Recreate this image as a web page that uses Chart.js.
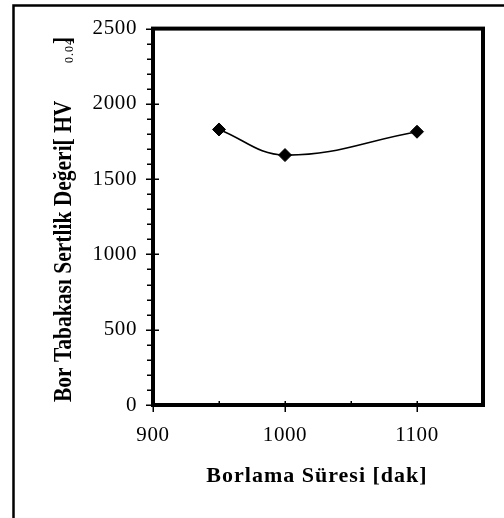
<!DOCTYPE html>
<html><head><meta charset="utf-8">
<script src="https://cdn.jsdelivr.net/npm/chart.js@4"></script>
<style>html,body{margin:0;padding:0;background:#fff;}</style>
</head><body>
<canvas id="c" width="504" height="518" style="width:504px;height:518px;display:block"></canvas>
<script>
const durations = [950, 1000, 1100];
const hardness = [1830, 1660, 1815];
const xTickLabels = [900, 1000, 1100];
const yTickLabels = [0, 500, 1000, 1500, 2000, 2500];
const xTitle = 'Borlama Süresi [dak]';
const yTitleMain = 'Bor Tabakası Sertlik Değeri[ HV';
const yTitleSub = '0.04';
const yTitleEnd = ']';

const SERIF = '"Liberation Serif", "Times New Roman", serif';

const framePlugin = {
  id: 'frame',
  beforeDraw(chart) {
    const ctx = chart.ctx;
    ctx.save();
    ctx.fillStyle = '#fff';
    ctx.fillRect(0, 0, chart.width, chart.height);
    ctx.restore();
    ctx.letterSpacing = '0.6px';
  },
  afterDraw(chart) {
    const ctx = chart.ctx;
    const a = chart.chartArea;
    const xs = chart.scales.x, ys = chart.scales.y;
    ctx.save();
    ctx.strokeStyle = '#000';
    // outer frame (only top and left visible)
    ctx.lineWidth = 2.5;
    ctx.beginPath();
    ctx.moveTo(13.5, chart.height + 2);
    ctx.lineTo(13.5, 5.5);
    ctx.lineTo(chart.width + 2, 5.5);
    ctx.stroke();
    // plot box
    ctx.lineWidth = 4;
    ctx.strokeRect(a.left, a.top, a.right - a.left, a.bottom - a.top);
    // tick marks
    ctx.lineWidth = 1.5;
    ctx.beginPath();
    for (let v = ys.min; v <= ys.max; v += 100) {
      const p = Math.round(ys.getPixelForValue(v)) + 0.25;
      if (v % 500 === 0) { ctx.moveTo(a.left - 7, p); ctx.lineTo(a.left + 6, p); }
      else { ctx.moveTo(a.left - 6, p); ctx.lineTo(a.left, p); }
    }
    for (let v = xs.min; v < xs.max; v += 50) {
      const p = Math.round(xs.getPixelForValue(v)) + 0.25;
      if (v % 100 === 0) { ctx.moveTo(p, a.bottom - 4); ctx.lineTo(p, a.bottom + 7); }
      else { ctx.moveTo(p, a.bottom - 4); ctx.lineTo(p, a.bottom); }
    }
    ctx.stroke();
    // axis titles
    ctx.fillStyle = '#000';
    ctx.letterSpacing = '1px';
    ctx.font = 'bold 22px ' + SERIF;
    ctx.textAlign = 'center';
    ctx.textBaseline = 'middle';
    ctx.fillText(xTitle, (a.left + a.right) / 2 - 1, 476);
    ctx.textAlign = 'left';
    ctx.textBaseline = 'alphabetic';
    ctx.letterSpacing = '0px';
    ctx.save();
    ctx.translate(71, 402);
    ctx.rotate(-Math.PI / 2);
    ctx.scale(1, 1.2);
    ctx.font = 'bold 21.5px ' + SERIF;
    ctx.fillText(yTitleMain, 0, 0);
    ctx.restore();
    ctx.save();
    ctx.translate(72.5, 63);
    ctx.rotate(-Math.PI / 2);
    ctx.scale(1, 1.1);
    ctx.letterSpacing = '1px';
    ctx.font = '12px ' + SERIF;
    ctx.fillText(yTitleSub, 0, 0);
    ctx.restore();
    ctx.save();
    ctx.translate(71, 44);
    ctx.rotate(-Math.PI / 2);
    ctx.scale(1, 1.2);
    ctx.font = 'bold 21.5px ' + SERIF;
    ctx.fillText(yTitleEnd, 0, 0);
    ctx.restore();
    ctx.restore();
  }
};

new Chart(document.getElementById('c'), {
  type: 'line',
  data: {
    datasets: [{
      data: durations.map((x, i) => ({ x: x, y: hardness[i] })),
      borderColor: '#000',
      borderWidth: 1.6,
      tension: 0.4,
      pointStyle: 'rectRot',
      pointRadius: 6.5,
      pointBackgroundColor: '#000',
      pointBorderColor: '#000',
      pointBorderWidth: 1,
      clip: false
    }]
  },
  options: {
    responsive: false,
    animation: false,
    devicePixelRatio: 1,
    layout: { padding: { left: 0, right: 21, top: 26, bottom: 0 } },
    plugins: { legend: { display: false }, tooltip: { enabled: false }, title: { display: false } },
    scales: {
      x: {
        type: 'linear',
        min: 900, max: 1150,
        afterFit: s => { s.height = 113; },
        afterBuildTicks: s => { s.ticks = xTickLabels.map(v => ({ value: v })); },
        grid: { display: false, drawTicks: false },
        border: { display: false },
        ticks: { color: '#000', font: { family: SERIF, size: 21 }, padding: 18, maxRotation: 0, autoSkip: false, callback: v => String(v) }
      },
      y: {
        type: 'linear',
        min: 0, max: 2500,
        afterFit: s => { s.width = 153; },
        afterBuildTicks: s => { s.ticks = yTickLabels.map(v => ({ value: v })); },
        grid: { display: false, drawTicks: false },
        border: { display: false },
        ticks: { color: '#000', font: { family: SERIF, size: 21 }, padding: 16, autoSkip: false, callback: v => String(v) }
      }
    }
  },
  plugins: [framePlugin]
});
</script>
</body></html>
